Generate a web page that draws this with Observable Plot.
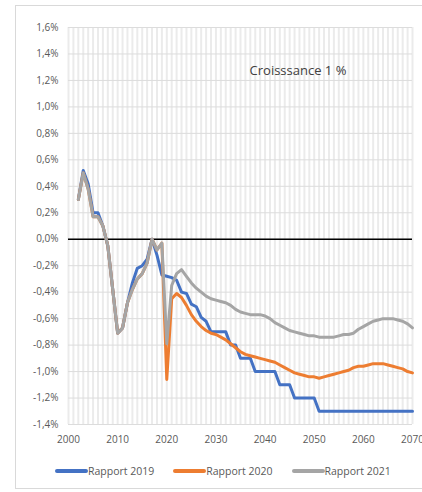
<!DOCTYPE html>
<html>
<head>
<meta charset="utf-8">
<script src="https://cdn.jsdelivr.net/npm/d3@7"></script>
<script src="https://cdn.jsdelivr.net/npm/@observablehq/plot@0.6"></script>
<style>
  html, body { margin: 0; padding: 0; background: #fff; }
  body { width: 422px; height: 492px; position: relative; overflow: hidden; font-family: "Open Sans", sans-serif; }
  #frame { position: absolute; left: 15px; top: 5px; width: 420px; height: 484px; border: 1px solid #d9d9d9; box-sizing: border-box; }
  #chart { position: absolute; left: 0; top: 0; }
  #legend { position: absolute; left: 55px; top: 464px; display: flex; gap: 19px; align-items: center; font-size: 10.5px; color: #595959; }
  .item { display: flex; align-items: center; }
  .sw { width: 33px; height: 4px; border-radius: 2px; }
</style>
</head>
<body>
<div id="frame"></div>
<div id="chart"></div>
<div id="legend"></div>
<script>
const firstYear = 2002;
const seriesNames = ["Rapport 2019", "Rapport 2020", "Rapport 2021"];
const seriesColors = ["#4472C4", "#ED7D31", "#A5A5A5"];

const rapport2019 = [
  0.30, 0.52, 0.42, 0.20, 0.20, 0.10, -0.05, -0.38, -0.71, -0.67,
  -0.48, -0.33, -0.22, -0.20, -0.15, 0.00, -0.12, -0.27, -0.28, -0.29,
  -0.31, -0.40, -0.41, -0.49, -0.51, -0.59, -0.62, -0.70, -0.70, -0.70,
  -0.70, -0.80, -0.80, -0.90, -0.90, -0.90, -1.00, -1.00, -1.00, -1.00,
  -1.00, -1.10, -1.10, -1.10, -1.20, -1.20, -1.20, -1.20, -1.20, -1.30,
  -1.30, -1.30, -1.30, -1.30, -1.30, -1.30, -1.30, -1.30, -1.30, -1.30,
  -1.30, -1.30, -1.30, -1.30, -1.30, -1.30, -1.30, -1.30, -1.30
];
const rapport2020 = [
  0.30, 0.50, 0.38, 0.17, 0.17, 0.10, -0.05, -0.38, -0.71, -0.67,
  -0.48, -0.38, -0.30, -0.26, -0.18, 0.00, -0.08, -0.03, -1.06, -0.45,
  -0.41, -0.44, -0.50, -0.57, -0.62, -0.66, -0.69, -0.71, -0.72, -0.74,
  -0.76, -0.79, -0.82, -0.85, -0.87, -0.88, -0.89, -0.90, -0.91, -0.92,
  -0.93, -0.95, -0.97, -0.99, -1.01, -1.02, -1.03, -1.04, -1.04, -1.05,
  -1.04, -1.03, -1.02, -1.01, -1.00, -0.99, -0.97, -0.96, -0.96, -0.95,
  -0.94, -0.94, -0.94, -0.95, -0.96, -0.97, -0.98, -1.00, -1.01
];
const rapport2021 = [
  0.30, 0.50, 0.38, 0.17, 0.17, 0.10, -0.05, -0.38, -0.71, -0.67,
  -0.48, -0.38, -0.30, -0.26, -0.18, 0.00, -0.08, -0.03, -0.79, -0.35,
  -0.26, -0.23, -0.28, -0.33, -0.37, -0.40, -0.43, -0.45, -0.46, -0.47,
  -0.48, -0.50, -0.53, -0.55, -0.56, -0.57, -0.57, -0.57, -0.58, -0.60,
  -0.63, -0.65, -0.67, -0.69, -0.70, -0.71, -0.72, -0.73, -0.73, -0.74,
  -0.74, -0.74, -0.74, -0.73, -0.72, -0.72, -0.71, -0.68, -0.66, -0.64,
  -0.62, -0.61, -0.60, -0.60, -0.60, -0.61, -0.62, -0.64, -0.67
];

const xTicks = [2000, 2010, 2020, 2030, 2040, 2050, 2060, 2070];
const yTicks = [-1.4, -1.2, -1.0, -0.8, -0.6, -0.4, -0.2, 0.0, 0.2, 0.4, 0.6, 0.8, 1.0, 1.2, 1.4, 1.6];
const annotation = [{year: 2046.7, value: 1.27, label: "Croisssance 1 %"}];

const allSeries = [rapport2019, rapport2020, rapport2021];
const rows = allSeries.flatMap((vals, i) =>
  vals.map((v, j) => ({year: firstYear + j, value: v, series: seriesNames[i]})));

const fmtY = d => (d < 0 ? "-" : "") + Math.abs(d).toFixed(1).replace(".", ",") + "%";

const chart = Plot.plot({
  width: 422,
  height: 456,
  marginLeft: 68,
  marginRight: 10,
  marginTop: 27,
  marginBottom: 32,
  style: {fontFamily: "'Open Sans', sans-serif", fontSize: "10px", color: "#595959", background: "transparent"},
  x: {domain: [xTicks[0], xTicks[xTicks.length - 1]], ticks: xTicks, tickFormat: d => String(d), tickSize: 0, tickPadding: 11, label: null},
  y: {domain: [yTicks[0], yTicks[yTicks.length - 1]], ticks: yTicks, tickFormat: fmtY, tickSize: 0, tickPadding: 10, label: null},
  color: {domain: seriesNames, range: seriesColors},
  marks: [
    Plot.gridX(d3.range(xTicks[0], xTicks[xTicks.length - 1] + 1), {stroke: "#ebebeb", strokeOpacity: 1, strokeWidth: 2}),
    Plot.gridY(yTicks, {stroke: "#dcdcdc", strokeOpacity: 1, strokeWidth: 1}),
    Plot.ruleY([0], {stroke: "#000", strokeWidth: 1.5}),
    ...seriesNames.map(name =>
      Plot.line(rows.filter(r => r.series === name), {x: "year", y: "value", stroke: "series", strokeWidth: 3, strokeLinejoin: "round", strokeLinecap: "round"})),
    Plot.text(annotation, {x: "year", y: "value", text: "label", fontSize: 13, fill: "#404040"})
  ]
});
document.getElementById("chart").appendChild(chart);

const legend = document.getElementById("legend");
seriesNames.forEach((name, i) => {
  const item = document.createElement("div");
  item.className = "item";
  const sw = document.createElement("div");
  sw.className = "sw";
  sw.style.background = seriesColors[i];
  const label = document.createElement("span");
  label.textContent = name;
  item.appendChild(sw);
  item.appendChild(label);
  legend.appendChild(item);
});
</script>
</body>
</html>
